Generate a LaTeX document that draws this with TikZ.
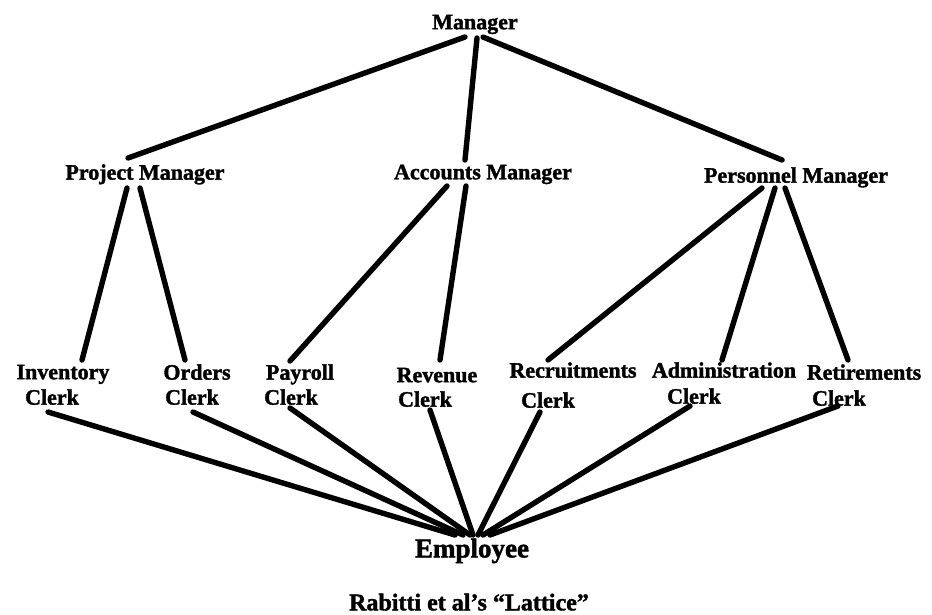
\documentclass[tikz,border=0pt]{standalone}
\usepackage{fontspec}
\newfontfamily\heavy{Liberation Serif Bold}[FakeBold=1.6,Ligatures=TeX]
\begin{document}
\begin{tikzpicture}[x=1pt,y=-1pt,
  lbl/.style={inner sep=0pt,text depth=0pt,font=\heavy\fontsize{22}{24}\selectfont},
  edge/.style={line width=5.4pt,line cap=round}]
\useasboundingbox (0,0) rectangle (932,614);
% top of the lattice
\node[lbl] (mgr) at (475,22) {Manager};
% managers
\node[lbl] (pm)  at (145,172) {Project Manager};
\node[lbl] (am)  at (483,172) {Accounts Manager};
\node[lbl] (pem) at (796,175) {Personnel Manager};
% clerks (first line, then "Clerk")
\node[lbl] (inv)  at (63,372)  {Inventory};
\node[lbl] (invc) at (52,397)  {Clerk};
\node[lbl] (ord)  at (197,372) {Orders};
\node[lbl] (ordc) at (192,397) {Clerk};
\node[lbl] (pay)  at (300,372) {Payroll};
\node[lbl] (payc) at (291,397) {Clerk};
\node[lbl] (rev)  at (437,375) {Revenue};
\node[lbl] (revc) at (425,399) {Clerk};
\node[lbl] (rec)  at (573,370) {Recruitments};
\node[lbl] (recc) at (548,400) {Clerk};
\node[lbl] (adm)  at (724,370) {Administration};
\node[lbl] (admc) at (694,396) {Clerk};
\node[lbl] (ret)  at (864,372) {Retirements};
\node[lbl] (retc) at (839,398) {Clerk};
% bottom of the lattice
\node[lbl,font=\heavy\fontsize{27}{29}\selectfont] (emp) at (472,548) {Employee};
\node[lbl,font=\heavy\fontsize{24}{26}\selectfont] (cap) at (469,602) {Rabitti et al’s “Lattice”};

% manager level
\draw[edge] ([shift={(-10,15)}]mgr.center) -- ([shift={(-17,-14)}]pm.center);
\draw[edge] ([shift={(2,16)}]mgr.center) -- ([shift={(-18,-12)}]am.center);
\draw[edge] ([shift={(8,15)}]mgr.center) -- ([shift={(-14,-15)}]pem.center);
% clerk level
\draw[edge] ([shift={(-18,16)}]pm.center) -- ([shift={(19,-12)}]inv.center);
\draw[edge] ([shift={(-5,16)}]pm.center) -- ([shift={(-12,-12)}]ord.center);
\draw[edge] ([shift={(-36,14)}]am.center) -- ([shift={(-10,-11)}]pay.center);
\draw[edge] ([shift={(-17,14)}]am.center) -- ([shift={(3,-15)}]rev.center);
\draw[edge] ([shift={(-34,13)}]pem.center) -- ([shift={(-25,-10)}]rec.center);
\draw[edge] ([shift={(-21,13)}]pem.center) -- ([shift={(-2,-10)}]adm.center);
\draw[edge] ([shift={(-11,13)}]pem.center) -- ([shift={(-16,-12)}]ret.center);
% to the bottom
\draw[edge] ([shift={(-4,15)}]invc.center) -- ([shift={(-17,-13)}]emp.center);
\draw[edge] ([shift={(1,15)}]ordc.center) -- ([shift={(-9,-13)}]emp.center);
\draw[edge] ([shift={(-1,11)}]payc.center) -- ([shift={(-2,-13)}]emp.center);
\draw[edge] ([shift={(5,11)}]revc.center) -- ([shift={(1,-13)}]emp.center);
\draw[edge] ([shift={(-8,12)}]recc.center) -- ([shift={(6,-13)}]emp.center);
\draw[edge] ([shift={(-4,10)}]admc.center) -- ([shift={(11,-13)}]emp.center);
\draw[edge] ([shift={(-1,8)}]retc.center) -- ([shift={(18,-13)}]emp.center);
\end{tikzpicture}
\end{document}
